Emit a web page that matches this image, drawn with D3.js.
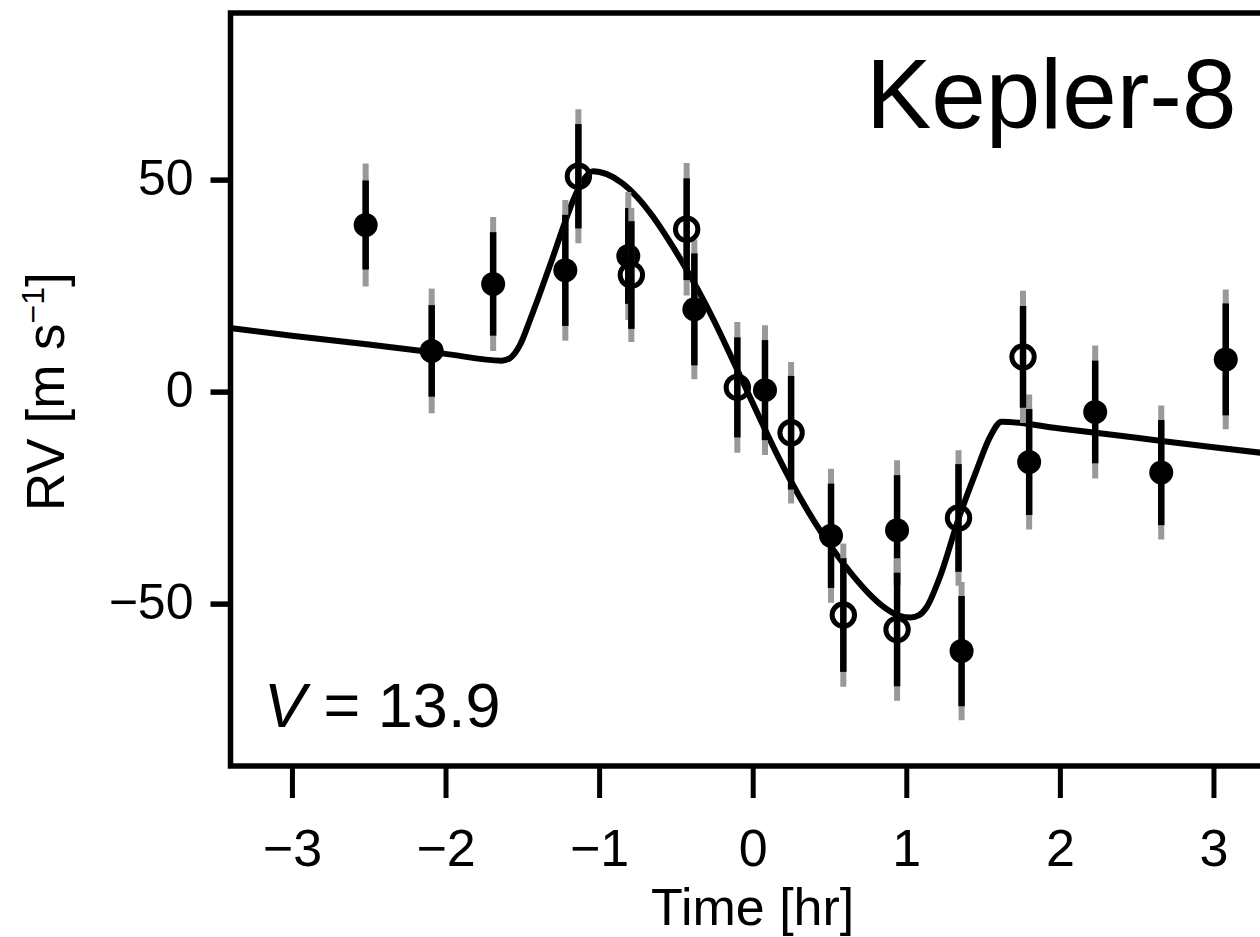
<!DOCTYPE html>
<html>
<head>
<meta charset="utf-8">
<script src="https://cdn.jsdelivr.net/npm/d3@7"></script>
<style>
  body { margin: 0; background: #fff; }
  svg { display: block; font-family: "Liberation Sans", Arial, Helvetica, sans-serif; }
</style>
</head>
<body>
<div id="rm-chart"></div>
<script>
const xTicks = [-3, -2, -1, 0, 1, 2, 3];
const yTicks = [-50, 0, 50];

// filled symbols
const filledTime = [-2.52, -2.09, -1.69, -1.22, -0.81, -0.38, 0.08, 0.51, 0.94, 1.36, 1.80, 2.23, 2.66, 3.08];
const filledRV   = [39.3, 9.6, 25.4, 28.6, 32.0, 19.4, 0.35, -34.0, -32.7, -61.2, -16.6, -4.8, -19.1, 7.6];
const filledErr  = [10.5, 10.8, 12.2, 13.1, 11.3, 13.2, 11.8, 12.3, 13.0, 13.0, 12.5, 12.1, 12.4, 13.2];
const filledErrJ = [14.5, 14.7, 15.8, 16.6, 15.1, 16.5, 15.3, 15.8, 16.5, 16.3, 15.9, 15.7, 15.8, 16.5];

// open symbols
const openTime = [-1.135, -0.79, -0.43, -0.10, 0.25, 0.59, 0.94, 1.34, 1.76];
const openRV   = [50.8, 27.5, 38.3, 1.0, -9.7, -52.7, -56.1, -29.8, 8.2];
const openErr  = [12.3, 12.7, 12.0, 11.8, 13.4, 13.4, 13.4, 12.7, 12.0];
const openErrJ = [15.8, 15.8, 15.6, 15.4, 16.7, 16.9, 16.8, 16.0, 15.6];

// model curve
const modelTime = [-3.40, -3.0, -2.5, -2.0, -1.634, -1.58, -1.515, -1.45, -1.385, -1.30, -1.233, -1.168, -1.103,
  -1.04, -0.95, -0.85, -0.75, -0.65, -0.55, -0.45, -0.35, -0.25, -0.15, -0.05, 0.05, 0.15, 0.25, 0.35,
  0.45, 0.55, 0.65, 0.75, 0.85, 0.95, 1.03, 1.08, 1.133, 1.219, 1.341, 1.458, 1.545, 1.621, 2.0, 2.5, 3.0, 3.40];
const modelRV = [15.0, 13.2, 11.1, 8.9, 7.3, 7.9, 11.0, 16.9, 23.2, 31.8, 38.9, 45.2, 49.9,
  52.0, 51.3, 49.2, 45.8, 41.3, 35.9, 30.0, 23.6, 16.6, 9.0, 1.2, -6.6, -14.2, -21.2, -27.6,
  -33.4, -38.6, -43.3, -47.4, -50.7, -52.8, -53.3, -52.8, -50.8, -43.7, -29.9, -18.5, -10.7, -7.1, -8.7, -10.9, -13.1, -14.8];

const width = 1260, height = 937;

const svg = d3.select("#rm-chart")
  .append("svg")
  .attr("width", width)
  .attr("height", height);

const x = d3.scaleLinear().domain([-3.4, 3.4]).range([230.5, 1274.9]);
const y = d3.scaleLinear().domain([-88.3, 89.3]).range([766, 13]);

// axes (ticks outside the frame)
const xAxis = svg.append("g")
  .attr("transform", `translate(0,${y(-88.3)})`)
  .call(d3.axisBottom(x).tickValues(xTicks).tickSize(32).tickFormat(d3.format("d")));
xAxis.select(".domain").remove();
xAxis.selectAll(".tick line").attr("stroke", "#000").attr("stroke-width", 5);
xAxis.selectAll(".tick text")
  .attr("y", 100).attr("dy", null)
  .attr("font-size", 52).attr("fill", "#000");

const yAxis = svg.append("g")
  .attr("transform", `translate(${x(-3.4)},0)`)
  .call(d3.axisLeft(y).tickValues(yTicks).tickSize(20).tickFormat(d3.format("d")));
yAxis.select(".domain").remove();
yAxis.selectAll(".tick line").attr("stroke", "#000").attr("stroke-width", 5.5);
yAxis.selectAll(".tick text")
  .attr("x", -37).attr("dy", "0.3em")
  .attr("font-size", 50).attr("fill", "#000");

// frame
svg.append("rect")
  .attr("x", x(-3.4))
  .attr("y", y(89.3))
  .attr("width", x(3.4) - x(-3.4))
  .attr("height", y(-88.3) - y(89.3))
  .attr("fill", "none")
  .attr("stroke", "#000")
  .attr("stroke-width", 5.5);

// axis titles
svg.append("text")
  .attr("x", x(0))
  .attr("y", 925)
  .attr("text-anchor", "middle")
  .attr("font-size", 52)
  .text("Time [hr]");

const yTitle = svg.append("text")
  .attr("transform", `translate(64,${y(0)}) rotate(-90)`)
  .attr("text-anchor", "middle")
  .attr("font-size", 53);
yTitle.append("tspan").text("RV [m s");
yTitle.append("tspan").attr("font-size", 32).attr("dy", -20).text("\u22121");
yTitle.append("tspan").attr("dy", 20).text("]");

// labels inside the frame
svg.append("text")
  .attr("x", 866)
  .attr("y", 128)
  .attr("font-size", 98)
  .text("Kepler-8");

const vLabel = svg.append("text")
  .attr("x", 264)
  .attr("y", 727)
  .attr("font-size", 63);
vLabel.append("tspan").attr("font-style", "italic").text("V");
vLabel.append("tspan").text(" = 13.9");

// model curve
const model = modelTime.map((t, i) => ({ t, rv: modelRV[i] }));
svg.append("path")
  .datum(model)
  .attr("fill", "none")
  .attr("stroke", "#000")
  .attr("stroke-width", 6)
  .attr("stroke-linejoin", "round")
  .attr("d", d3.line().x((d) => x(d.t)).y((d) => y(d.rv)).curve(d3.curveMonotoneX));

// data points
const filled = filledTime.map((t, i) => ({ t, rv: filledRV[i], e: filledErr[i], ej: filledErrJ[i], open: false }));
const open = openTime.map((t, i) => ({ t, rv: openRV[i], e: openErr[i], ej: openErrJ[i], open: true }));
const points = filled.concat(open);

const pts = svg.selectAll(".pt")
  .data(points)
  .enter()
  .append("g")
  .attr("class", "pt");

pts.append("line")
  .attr("x1", (d) => x(d.t)).attr("x2", (d) => x(d.t))
  .attr("y1", (d) => y(d.rv - d.ej)).attr("y2", (d) => y(d.rv + d.ej))
  .attr("stroke", "#999")
  .attr("stroke-width", 6);

pts.append("line")
  .attr("x1", (d) => x(d.t)).attr("x2", (d) => x(d.t))
  .attr("y1", (d) => y(d.rv - d.e)).attr("y2", (d) => y(d.rv + d.e))
  .attr("stroke", "#000")
  .attr("stroke-width", 6.5);

pts.append("circle")
  .attr("cx", (d) => x(d.t))
  .attr("cy", (d) => y(d.rv))
  .attr("r", (d) => (d.open ? 11.2 : 12))
  .attr("fill", (d) => (d.open ? "none" : "#000"))
  .attr("stroke", (d) => (d.open ? "#000" : "none"))
  .attr("stroke-width", 5);
</script>
</body>
</html>
